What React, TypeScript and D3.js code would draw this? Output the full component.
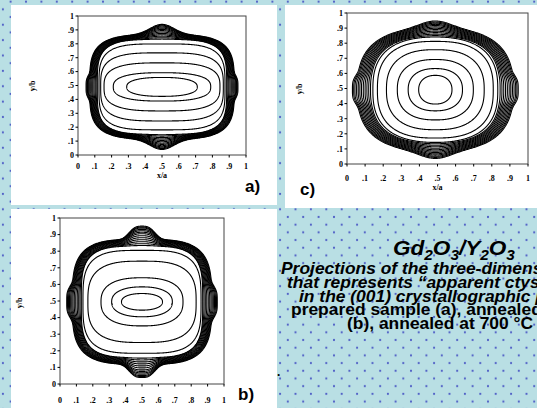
import React from "react";
import * as d3 from "d3";

// ---- axis ticks ----
const tickValues = [0, 0.1, 0.2, 0.3, 0.4, 0.5, 0.6, 0.7, 0.8, 0.9, 1];
const tickLabels = ["0", ".1", ".2", ".3", ".4", ".5", ".6", ".7", ".8", ".9", "1"];

// ---- panel a: as-prepared (contour half-extents in x/a, y/b units) ----
const aRx = [0.21, 0.29, 0.345, 0.365, 0.375, 0.385, 0.39, 0.394, 0.398, 0.402, 0.406, 0.41, 0.414, 0.418, 0.421, 0.424, 0.427, 0.43];
const aRy = [0.068, 0.102, 0.173, 0.245, 0.309, 0.34, 0.344, 0.348, 0.351, 0.354, 0.357, 0.36, 0.363, 0.366, 0.369, 0.371, 0.373, 0.375];
const aShape = [2.4, 2.6, 3, 3.4, 3.8, 4, 3.8, 3.8, 3.8, 3.8, 3.8, 3.8, 3.8, 3.8, 3.8, 3.8, 3.8, 3.8];
const aTopBump = [0, 0, 0, 0, 0, 0.004, 0.01, 0.017, 0.024, 0.031, 0.038, 0.045, 0.051, 0.057, 0.062, 0.067, 0.071, 0.075];
const aSideBump = [0, 0, 0, 0, 0, 0, 0.002, 0.004, 0.007, 0.01, 0.012, 0.014, 0.016, 0.018, 0.019, 0.02, 0.021, 0.022];

// ---- panel b: annealed 500 °C ----
const bRx = [0.125, 0.185, 0.25, 0.33, 0.36, 0.37, 0.375, 0.38, 0.385, 0.39, 0.395, 0.4, 0.404, 0.408, 0.412, 0.416, 0.42, 0.424];
const bRy = [0.05, 0.09, 0.145, 0.245, 0.31, 0.335, 0.34, 0.344, 0.348, 0.352, 0.356, 0.36, 0.363, 0.366, 0.369, 0.372, 0.374, 0.376];
const bShape = [2.2, 2.3, 2.5, 3, 3.5, 3.8, 3.6, 3.6, 3.6, 3.6, 3.6, 3.6, 3.6, 3.6, 3.6, 3.6, 3.6, 3.6];
const bTopBump = [0, 0, 0, 0, 0, 0.004, 0.01, 0.018, 0.026, 0.034, 0.042, 0.05, 0.056, 0.062, 0.067, 0.072, 0.076, 0.08];
const bSideBump = [0, 0, 0, 0, 0, 0, 0.003, 0.006, 0.01, 0.014, 0.018, 0.021, 0.024, 0.027, 0.03, 0.032, 0.034, 0.035];

// ---- panel c: annealed 700 °C ----
const cRx = [0.092, 0.15, 0.21, 0.27, 0.32, 0.345, 0.355, 0.362, 0.369, 0.376, 0.383, 0.39, 0.397, 0.404, 0.411, 0.418, 0.424, 0.43];
const cRy = [0.095, 0.14, 0.2, 0.265, 0.32, 0.345, 0.35, 0.355, 0.36, 0.365, 0.37, 0.375, 0.38, 0.385, 0.39, 0.395, 0.4, 0.405];
const cShape = [2.2, 2.3, 2.4, 2.5, 2.6, 2.6, 2.7, 2.7, 2.7, 2.7, 2.7, 2.7, 2.7, 2.7, 2.7, 2.7, 2.7, 2.7];
const cTopBump = [0, 0, 0, 0, 0, 0.004, 0.008, 0.013, 0.018, 0.023, 0.028, 0.032, 0.036, 0.04, 0.043, 0.046, 0.048, 0.05];
const cSideBump = [0, 0, 0, 0, 0, 0, 0.003, 0.006, 0.009, 0.012, 0.015, 0.018, 0.02, 0.022, 0.024, 0.026, 0.027, 0.028];

// ---- caption ----
const captionLines = [
  "Projections of the three-dimensional electron density",
  "that represents \u201capparent ctystallite shape\u201d",
  "in the (001) crystallographic plane for",
  "prepared sample (a), annealed at 500 \u00b0C",
  "(b), annealed at 700 \u00b0C (c)",
];

type PanelCfg = {
  rx: number[]; ry: number[]; shape: number[]; topBump: number[]; sideBump: number[];
  cx: number; cy: number; wT: number; pT: number; wS: number; pS: number;
  left: number; right: number; top: number; bottom: number;
  white: [number, number, number, number];
  label: string; labelX: number; labelY: number;
  ybX: number; ybY: number; xaY: number | null; tickLabelY: number;
};

function contourPoints(cfg: PanelCfg, i: number): [number, number][] {
  const rx = cfg.rx[i], ry = cfg.ry[i], n = cfg.shape[i], bt = cfg.topBump[i], bs = cfg.sideBump[i];
  const pts: [number, number][] = [];
  const N = 720;
  for (let k = 0; k < N; k++) {
    const phi = (k / N) * 2 * Math.PI;
    const c = Math.cos(phi), s = Math.sin(phi);
    const r = 1 / Math.pow(Math.pow(Math.abs(c) / rx, n) + Math.pow(Math.abs(s) / ry, n), 1 / n);
    const dx0 = r * c, dy0 = r * s;
    const wy = Math.pow(Math.abs(dy0) / ry, 6);
    const wx = Math.pow(Math.abs(dx0) / rx, 6);
    const dy = dy0 + Math.sign(dy0) * bt * Math.exp(-Math.pow(Math.abs(dx0) / cfg.wT, cfg.pT)) * wy;
    const dx = dx0 + Math.sign(dx0) * bs * Math.exp(-Math.pow(Math.abs(dy0) / cfg.wS, cfg.pS)) * wx;
    pts.push([cfg.cx + dx, cfg.cy + dy]);
  }
  return pts;
}

const serif = "'Liberation Serif', 'Times New Roman', serif";
const sans = "'Liberation Sans', Arial, sans-serif";

function Panel({ cfg }: { cfg: PanelCfg }) {
  const x = d3.scaleLinear().domain([0, 1]).range([cfg.left, cfg.right]);
  const y = d3.scaleLinear().domain([0, 1]).range([cfg.bottom, cfg.top]);
  const line = d3.line<[number, number]>().x((d) => x(d[0])).y((d) => y(d[1])).curve(d3.curveLinearClosed);
  const [wx, wy, ww, wh] = cfg.white;
  return (
    <g>
      <rect x={wx} y={wy} width={ww} height={wh} fill="#ffffff" />
      <rect x={cfg.left} y={cfg.top} width={cfg.right - cfg.left} height={cfg.bottom - cfg.top} fill="none" stroke="#444" strokeWidth={1} />
      {cfg.rx.map((_, i) => (
        <path key={i} d={line(contourPoints(cfg, i)) || ""} fill="none" stroke="#000" strokeWidth={1.1} />
      ))}
      {tickValues.map((t, i) => (
        <g key={"t" + i}>
          <line x1={x(t)} x2={x(t)} y1={cfg.bottom} y2={cfg.bottom + 2.5} stroke="#000" />
          <line x1={cfg.left - 2.5} x2={cfg.left} y1={y(t)} y2={y(t)} stroke="#000" />
          <text x={x(t)} y={cfg.tickLabelY} fontFamily={serif} fontWeight="bold" fontSize={8} textAnchor="middle">{tickLabels[i]}</text>
          <text x={cfg.left - 4} y={y(t) + 2.8} fontFamily={serif} fontWeight="bold" fontSize={8} textAnchor="end">{tickLabels[i]}</text>
        </g>
      ))}
      {cfg.xaY !== null && (
        <text x={(cfg.left + cfg.right) / 2} y={cfg.xaY} fontFamily={serif} fontWeight="bold" fontSize={8} textAnchor="middle">x/a</text>
      )}
      <text transform={`translate(${cfg.ybX},${cfg.ybY}) rotate(-90)`} fontFamily={serif} fontWeight="bold" fontSize={8} textAnchor="middle">y/b</text>
      <text x={cfg.labelX} y={cfg.labelY} fontFamily={sans} fontWeight="bold" fontSize={17}>{cfg.label}</text>
    </g>
  );
}

const panelA: PanelCfg = {
  rx: aRx, ry: aRy, shape: aShape, topBump: aTopBump, sideBump: aSideBump,
  cx: 0.5, cy: 0.49, wT: 0.1, pT: 2, wS: 0.085, pS: 4,
  left: 78, right: 246, top: 16, bottom: 155, white: [11, 5, 266, 200],
  label: "a)", labelX: 245, labelY: 192, ybX: 35, ybY: 86, xaY: 178, tickLabelY: 169,
};
const panelB: PanelCfg = {
  rx: bRx, ry: bRy, shape: bShape, topBump: bTopBump, sideBump: bSideBump,
  cx: 0.5, cy: 0.495, wT: 0.09, pT: 3, wS: 0.1, pS: 4,
  left: 60, right: 224, top: 218, bottom: 384, white: [11, 209, 266, 199],
  label: "b)", labelX: 238, labelY: 400, ybX: 22, ybY: 303, xaY: null, tickLabelY: 403,
};
const panelC: PanelCfg = {
  rx: cRx, ry: cRy, shape: cShape, topBump: cTopBump, sideBump: cSideBump,
  cx: 0.488, cy: 0.492, wT: 0.12, pT: 2, wS: 0.1, pS: 4,
  left: 347, right: 528, top: 13, bottom: 164, white: [285, 5, 252, 203],
  label: "c)", labelX: 300, labelY: 195, ybX: 302, ybY: 89, xaY: 190, tickLabelY: 181,
};

export default function App() {
  const lineX = [281, 287, 299, 291, 347];
  const lineY = [274, 288, 302, 315, 329];
  return (
    <svg width={537} height={408} style={{ position: "absolute", left: 0, top: 0 }}>
      <defs>
        <pattern id="dots" patternUnits="userSpaceOnUse" width={15.4} height={15.38} x={26 - 3.85} y={1.7 - 3.85}>
          <circle cx={3.85} cy={3.85} r={1.1} fill="#4f5ec6" />
          <circle cx={11.55} cy={11.54} r={1.1} fill="#4f5ec6" />
        </pattern>
      </defs>
      <rect x={0} y={0} width={537} height={408} fill="#b9dfe4" />
      <rect x={0} y={0} width={537} height={408} fill="url(#dots)" />
      <Panel cfg={panelA} />
      <Panel cfg={panelC} />
      <Panel cfg={panelB} />
      <text transform="translate(393,255) scale(1.1,1)" fontFamily={sans} fontWeight="bold" fontStyle="italic" fontSize={20.5}>
        Gd<tspan dy={5} fontSize={14}>2</tspan><tspan dy={-5}>O</tspan><tspan dy={5} fontSize={14}>3</tspan><tspan dy={-5}>/Y</tspan><tspan dy={5} fontSize={14}>2</tspan><tspan dy={-5}>O</tspan><tspan dy={5} fontSize={14}>3</tspan>
      </text>
      {captionLines.map((t, i) => (
        <text key={i} transform={`translate(${lineX[i]},${lineY[i]}) scale(1.09,1)`} fontFamily={sans} fontWeight="bold" fontStyle={i < 3 ? "italic" : "normal"} fontSize={16}>{t}</text>
      ))}
      <text x={277} y={376} fontFamily={sans} fontWeight="bold" fontSize={12}>.</text>
    </svg>
  );
}
